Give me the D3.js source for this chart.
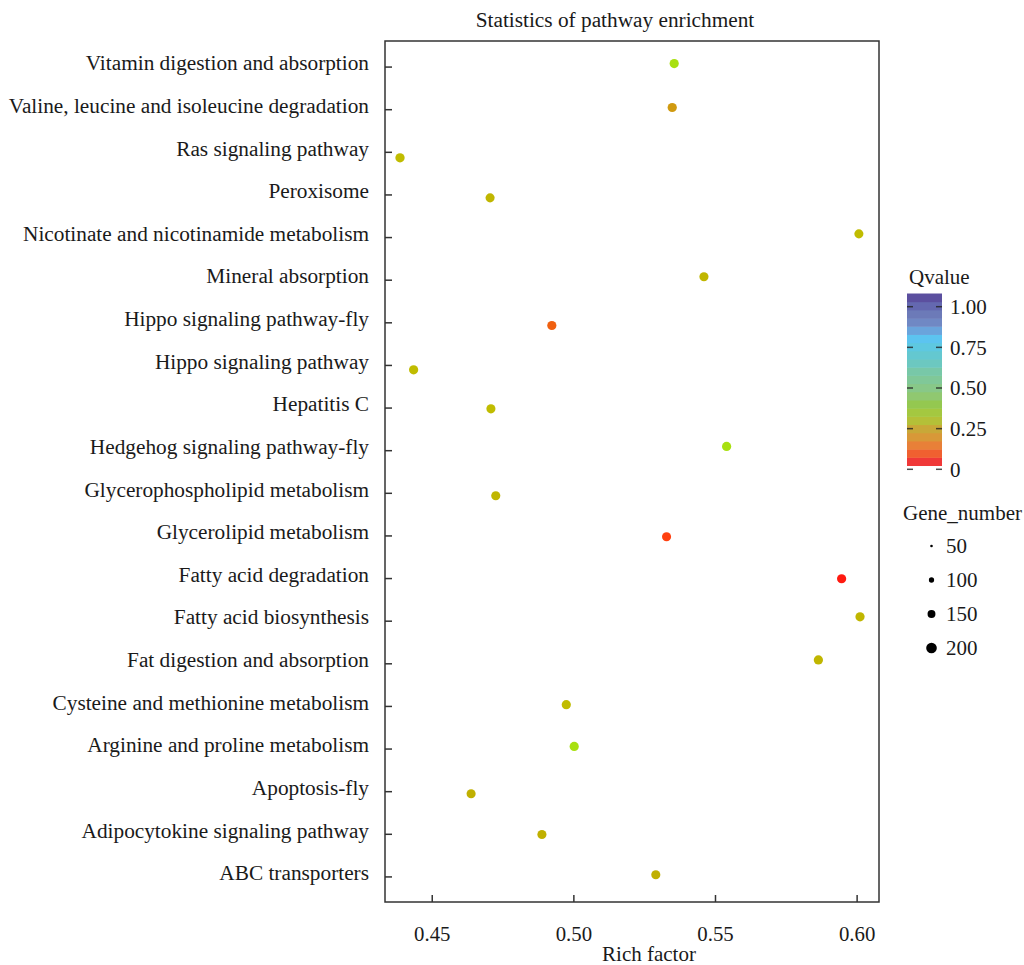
<!DOCTYPE html>
<html>
<head>
<meta charset="utf-8">
<script src="https://cdn.jsdelivr.net/npm/d3@7"></script>
<style>
  body { margin: 0; background: #fff; }
  text { font-family: "Liberation Serif", "Times New Roman", serif; fill: #1a1a1a; }
</style>
</head>
<body>
<svg id="chart" width="1024" height="965"></svg>
<script>
// pathways, top to bottom
const pathways = [
  'Vitamin digestion and absorption',
  'Valine, leucine and isoleucine degradation',
  'Ras signaling pathway',
  'Peroxisome',
  'Nicotinate and nicotinamide metabolism',
  'Mineral absorption',
  'Hippo signaling pathway-fly',
  'Hippo signaling pathway',
  'Hepatitis C',
  'Hedgehog signaling pathway-fly',
  'Glycerophospholipid metabolism',
  'Glycerolipid metabolism',
  'Fatty acid degradation',
  'Fatty acid biosynthesis',
  'Fat digestion and absorption',
  'Cysteine and methionine metabolism',
  'Arginine and proline metabolism',
  'Apoptosis-fly',
  'Adipocytokine signaling pathway',
  'ABC transporters'
];
const richFactor = [0.5356, 0.5349, 0.4388, 0.4706, 0.6008, 0.5461, 0.4924, 0.4436, 0.4709, 0.5541,
                    0.4726, 0.5329, 0.5947, 0.6012, 0.5865, 0.4975, 0.5003, 0.4639, 0.4889, 0.5291];
const qValue = [0.35, 0.18, 0.27, 0.26, 0.27, 0.26, 0.08, 0.27, 0.27, 0.35,
                0.26, 0.05, 0.01, 0.26, 0.26, 0.27, 0.35, 0.25, 0.25, 0.25];
const geneNumber = [174, 174, 176, 172, 172, 172, 174, 174, 172, 174,
                    172, 172, 174, 174, 174, 174, 174, 172, 172, 172];
// vertical jitter, in rows (positive = downward)
const jitter = [-0.07, -0.04, 0.14, 0.08, -0.075, -0.07, 0.075, 0.115, 0.03, -0.087,
                0.07, 0.03, 0.016, -0.09, -0.08, -0.03, -0.05, 0.06, 0.015, -0.04];

const xTicks = [0.45, 0.50, 0.55, 0.60];
const qTicks = [0, 0.25, 0.5, 0.75, 1];
const qTickLabels = ['0', '0.25', '0.50', '0.75', '1.00'];
const sizeBreaks = [50, 100, 150, 200];

// legend colour bands, bottom (q = 0) to top (q = 1)
const bandColors = ['#f03838', '#f06030', '#e88038', '#d89838', '#c8a838', '#b4c038', '#a4c840',
                    '#94c850', '#90c870', '#88c888', '#80c898', '#78c8a8', '#6cc8c0', '#64c8d0',
                    '#5ec8e0', '#5cc4f0', '#6aa4dc', '#7088c4', '#6c7ab8', '#6468b0', '#5b4f9f'];

const svg = d3.select('#chart');

const plot = { left: 385, right: 879, top: 41, bottom: 902 };

const x = d3.scaleLinear().domain([0.4335, 0.6079]).range([plot.left, plot.right]);
const y = d3.scalePoint().domain(pathways).range([plot.top, plot.bottom]).padding(0.6);

// point colours for qvalue
const color = d3.scaleLinear()
  .domain([0, 0.05, 0.08, 0.18, 0.25, 0.27, 0.35, 0.5, 0.75, 1])
  .range(['#ff1010', '#ff4010', '#f06010', '#d09a10', '#c0b000', '#c0bc00', '#a8e010', '#78c8a8', '#5cc4f0', '#5b4f9f']);

const size = d3.scaleLinear().domain([50, 200]).range([1.3, 5.3]);

// title
svg.append('text')
  .attr('x', 615)
  .attr('y', 27)
  .attr('text-anchor', 'middle')
  .style('font-size', '21.3px')
  .text('Statistics of pathway enrichment');

// axes
const yAxis = svg.append('g')
  .attr('transform', `translate(${plot.left},0)`)
  .call(d3.axisLeft(y).tickSizeInner(-7).tickSizeOuter(0).tickPadding(16));
yAxis.select('.domain').remove();
yAxis.selectAll('text').style('font-size', '21.3px').attr('fill', '#1a1a1a').attr('dy', '0.15em');
yAxis.selectAll('line').attr('stroke', '#333').attr('stroke-width', 1.5);

const xAxis = svg.append('g')
  .attr('transform', `translate(0,${plot.bottom})`)
  .call(d3.axisBottom(x).tickValues(xTicks).tickFormat(d3.format('.2f')).tickSizeInner(-7).tickSizeOuter(0).tickPadding(24));
xAxis.select('.domain').remove();
xAxis.selectAll('text').style('font-size', '20.8px').attr('fill', '#1a1a1a');
xAxis.selectAll('line').attr('stroke', '#333').attr('stroke-width', 1.5);

// frame
svg.append('rect')
  .attr('x', plot.left).attr('y', plot.top)
  .attr('width', plot.right - plot.left).attr('height', plot.bottom - plot.top)
  .attr('fill', 'none').attr('stroke', '#333').attr('stroke-width', 1.5);

svg.append('text')
  .attr('x', (plot.left + plot.right) / 2 + 17)
  .attr('y', 961)
  .attr('text-anchor', 'middle')
  .style('font-size', '21px')
  .text('Rich factor');

// points
const rows = pathways.map((p, i) => ({ p, rich: richFactor[i], q: qValue[i], n: geneNumber[i], j: jitter[i] }));
svg.append('g').selectAll('circle')
  .data(rows)
  .join('circle')
  .attr('cx', d => x(d.rich))
  .attr('cy', d => y(d.p) + d.j * y.step())
  .attr('r', d => size(d.n))
  .attr('fill', d => color(d.q));

// Qvalue legend
const lg = svg.append('g');
lg.append('text').attr('x', 909).attr('y', 284).style('font-size', '21px').text('Qvalue');

const bar = { x: 907, w: 35, top: 301.7, bottom: 473.7 };
const band = d3.scaleBand().domain(d3.range(bandColors.length)).range([bar.bottom, bar.top]);
lg.selectAll('rect.band')
  .data(bandColors)
  .join('rect')
  .attr('class', 'band')
  .attr('x', bar.x)
  .attr('y', (d, i) => band(i) - band.bandwidth())
  .attr('width', bar.w)
  .attr('height', band.bandwidth() + 0.5)
  .attr('fill', d => d);

const qy = d3.scaleLinear().domain([0, 1]).range([469.3, 306.7]);
qTicks.forEach((t, i) => {
  lg.append('line').attr('x1', bar.x).attr('x2', bar.x + 6).attr('y1', qy(t)).attr('y2', qy(t))
    .attr('stroke', '#222').attr('stroke-width', 1.5).attr('stroke-opacity', 0.8);
  lg.append('line').attr('x1', bar.x + bar.w - 6).attr('x2', bar.x + bar.w).attr('y1', qy(t)).attr('y2', qy(t))
    .attr('stroke', '#222').attr('stroke-width', 1.5).attr('stroke-opacity', 0.8);
  lg.append('text').attr('x', 950).attr('y', qy(t)).attr('dy', '0.35em')
    .style('font-size', '21px').text(qTickLabels[i]);
});

// Gene_number legend
svg.append('text').attr('x', 903).attr('y', 520).style('font-size', '21px').text('Gene_number');
const sy = d3.scalePoint().domain(sizeBreaks).range([546, 648]);
const sg = svg.append('g').selectAll('g').data(sizeBreaks).join('g');
sg.append('circle').attr('cx', 931.5).attr('cy', d => sy(d)).attr('r', d => size(d)).attr('fill', '#000');
sg.append('text').attr('x', 946).attr('y', d => sy(d)).attr('dy', '0.35em')
  .style('font-size', '21px').text(d => d);
</script>
</body>
</html>
